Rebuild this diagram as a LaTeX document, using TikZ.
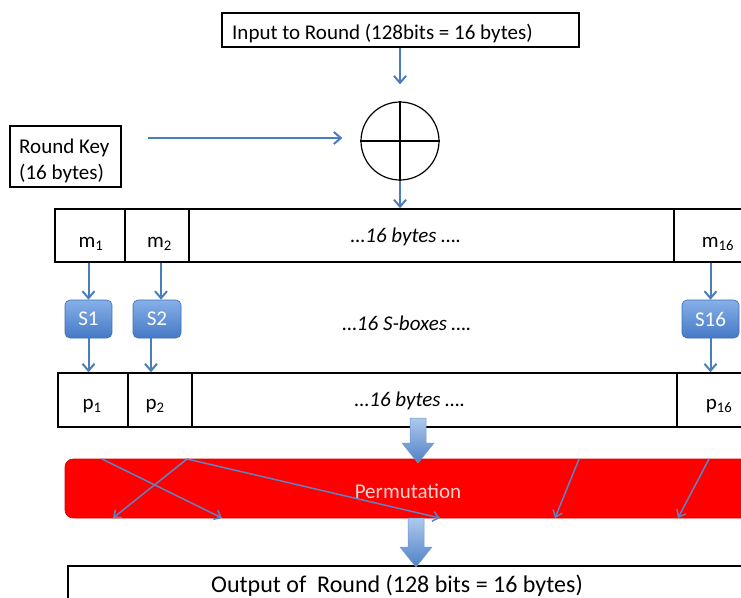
\documentclass[tikz,border=0pt]{standalone}
\usepackage{fontspec}
\setmainfont{Carlito}
\usetikzlibrary{arrows.meta,calc}
\definecolor{connblue}{HTML}{4A7EBB}
\definecolor{permline}{HTML}{5F82C2}
\definecolor{sboxtop}{HTML}{86B0E8}
\definecolor{sboxbot}{HTML}{4579C6}
\definecolor{sboxedge}{HTML}{3E6DB0}
\definecolor{batop}{HTML}{AEC9EE}
\definecolor{babot}{HTML}{4F81C6}
\definecolor{permtext}{HTML}{FFD2D2}
\begin{document}
\begin{tikzpicture}[x=1pt,y=-1pt,
  txt/.style={font=\fontsize{21}{25}\selectfont, inner sep=0pt},
  itxt/.style={font=\fontsize{21}{25}\selectfont\itshape, inner sep=0pt},
  box/.style={draw=black, line width=1.3pt, inner sep=0pt},
  cell/.style={draw=black, line width=1.5pt, inner sep=0pt},
  sbox/.style={draw=sboxedge, line width=0.6pt, rounded corners=5pt, top color=sboxtop, bottom color=sboxbot, text=white, font=\fontsize{21}{25}\selectfont, inner sep=0pt},
  conn/.style={draw=connblue, line width=2pt, -{Straight Barb[length=7pt,width=12pt,line width=2pt]}},
  pline/.style={draw=permline, line width=1.5pt, -{Straight Barb[length=6pt,width=10pt,line width=1.5pt]}},
  blockarrow/.style={top color=batop, bottom color=babot, draw=connblue!80, line width=0.5pt},
]
\useasboundingbox (0,0) rectangle (741,597);
\clip (0,0) rectangle (741,597);

% input box
\node[box, minimum width=357pt, minimum height=34pt] (in) at (400.5,30) {};
\node[txt, anchor=base west] (int) at (232,39.5) {Input to Round (128bits = 16 bytes)};

% xor
\node[draw=black, line width=1.2pt, circle, minimum size=78pt, inner sep=0pt] (xor) at (400,141) {};
\draw[black, line width=2pt] (xor.north) -- (xor.south);
\draw[black, line width=2pt] (xor.west) -- (xor.east);

% round key
\node[box, minimum width=111pt, minimum height=61pt] (key) at (65.5,156.5) {};
\node[txt, anchor=base west] (key1) at (19,153) {Round Key};
\node[txt, anchor=base west] (key2) at (19,179) {(16 bytes)};
\coordinate (ks) at (148,138);
\draw[conn, shorten >=18pt] (ks) -- (ks -| xor.west);
\draw[conn, shorten >=17pt] (in.south -| xor) -- (xor.north);

% m row
\node[cell, minimum width=70pt, minimum height=53pt] (m1) at (90,235.5) {};
\node[cell, minimum width=64pt, minimum height=53pt] (m2) at (157,235.5) {};
\node[cell, minimum width=485pt, minimum height=53pt] (mdots) at (431.5,235.5) {};
\node[cell, minimum width=72pt, minimum height=53pt] (m16) at (710,235.5) {};
\node[txt, anchor=base] (m1t) at (91,247) {m\textsubscript{1}};
\node[txt, anchor=base] (m2t) at (159.5,247) {m\textsubscript{2}};
\node[txt, anchor=base] (m16t) at (718,247) {m\textsubscript{16}};
\node[itxt, anchor=base] (mdt) at (406,242) {…16 bytes ….};
\draw[conn] (xor.south) -- (xor.south |- mdots.north);

% s-boxes
\node[sbox, minimum width=47pt, minimum height=38pt] (S1) at (88.5,319) {S1};
\node[sbox, minimum width=48pt, minimum height=38pt] (S2) at (157,319) {S2};
\node[sbox, minimum width=57pt, minimum height=38pt] (S16) at (710.5,319) {S16};
\node[itxt, anchor=base] (sdt) at (407,330) {…16 S-boxes ….};

% p row
\node[cell, minimum width=70pt, minimum height=54pt] (p1) at (93,400) {};
\node[cell, minimum width=64pt, minimum height=54pt] (p2) at (160,400) {};
\node[cell, minimum width=485pt, minimum height=54pt] (pdots) at (434.5,400) {};
\node[cell, minimum width=72pt, minimum height=54pt] (p16) at (713,400) {};
\node[txt, anchor=base] (p1t) at (92,409) {p\textsubscript{1}};
\node[txt, anchor=base] (p2t) at (155,409) {p\textsubscript{2}};
\node[txt, anchor=base] (p16t) at (719,409) {p\textsubscript{16}};
\node[itxt, anchor=base] (pdt) at (410,406) {…16 bytes ….};

% s-box connectors
\draw[conn] (S1.north |- m1.south) -- (S1.north);
\draw[conn] (S1.south) -- (S1.south |- p1.north);
\draw[conn] ([xshift=4pt]S2.north |- m2.south) -- ([xshift=4pt]S2.north);
\draw[conn] ([xshift=-6pt]S2.south) -- ([xshift=-6pt]S2.south |- p2.north);
\draw[conn] (S16.north |- m16.south) -- (S16.north);
\draw[conn] (S16.south) -- (S16.south |- p16.north);

% permutation
\node[fill=red, draw=red!85!black, line width=0.6pt, rounded corners=8pt, minimum width=695pt, minimum height=59pt, inner sep=0pt] (perm) at (412.5,488.5) {};
\node[txt, text=permtext, anchor=base] (permt) at (408,498) {Permutation};

% output box
\node[box, minimum width=692pt, minimum height=60pt] (out) at (414,596) {};
\node[font=\fontsize{24}{28}\selectfont, inner sep=0pt, anchor=base west] (outt) at (211,592.5) {Output of\ \ Round (128 bits = 16 bytes)};

% block arrows
\coordinate (ba1) at (418,418);
\shade[blockarrow] (ba1) ++(-8,0) -- ++(16,0) -- ++(0,25) -- ++(8,0) -- ++(-16,20) -- ++(-16,-20) -- ++(8,0) -- cycle;
\coordinate (ba2) at (416,518);
\shade[blockarrow] (ba2) ++(-8,0) -- ++(16,0) -- ++(0,29) -- ++(8,0) -- ++(-16,20) -- ++(-16,-20) -- ++(8,0) -- cycle;

% permutation lines
\coordinate (a1) at (102,459); \coordinate (a1e) at (222,518);
\coordinate (a2) at (187,459); \coordinate (a2e) at (113,518); \coordinate (a3e) at (440,518);
\coordinate (a4) at (579,459); \coordinate (a4e) at (555,518);
\coordinate (a5) at (709,459); \coordinate (a5e) at (678,518);
\draw[pline] (a1) -- (a1e);
\draw[pline] (a2) -- (a2e);
\draw[pline] (a2) -- (a3e);
\draw[pline] (a4) -- (a4e);
\draw[pline] (a5) -- (a5e);
\end{tikzpicture}
\end{document}
